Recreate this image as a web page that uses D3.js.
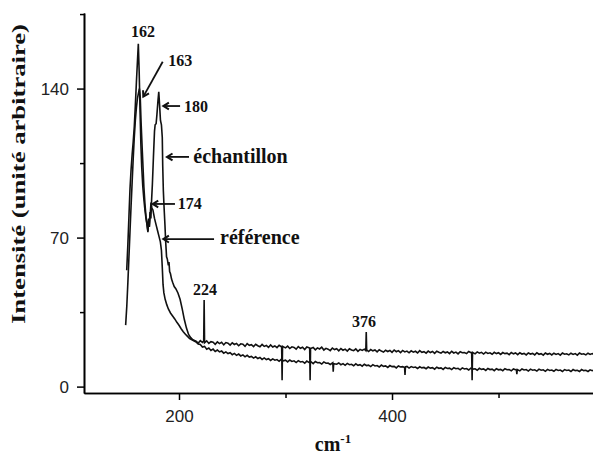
<!DOCTYPE html>
<html><head><meta charset="utf-8">
<script src="https://cdn.jsdelivr.net/npm/d3@7"></script>
<style>
html,body{margin:0;padding:0;background:#fff;}
svg{display:block;}
</style></head><body>
<svg id="chart" width="593" height="454"></svg>
<script>
// ---------- data : [wavenumber cm-1, intensity] ----------
const sampleSpectrum = [
[149.9,28.9],[151,38],[152,49],[153,61],[154,73],[155,85],[156,96],[157,107],[158,117],[159,125],[160,131],[161,135.5],[162,138],[162.8,140],[163.6,136],[164.4,124],[165.6,110],[166.4,101],[167,94],[168,86],[169,80],[170,76],[170.8,72.5],[171.4,79],[172,75],[172.8,82],[173.6,79],[174.3,88],[175,95],[176,108],[177,120],[177.6,123],[178.5,123.5],[179.3,128],[180.2,134],[181,138.5],[181.8,132],[182.6,125],[183.5,123],[184.3,117],[184.7,104],[185.3,92],[186,84],[186.8,76],[187.5,68],[188.3,61],[189,60],[190,57],[190.6,58.5],[191.2,54],[192,53],[193,50.5],[194,49],[195.5,47],[197,46],[199,44],[201,41],[203,36.5],[205,31.5],[207,27.5],[209,24.5],[211,23],[213,22],
[216,21.3],[218,20.4],[220,21.6],[222,20.8],[223.2,21.4],[223.6,40.7],[224.0,20.6],[226,21.5],[228,20.3],[230,21.1],[232,20.9],[234,19.9],[236,21.0],[238,20.2],[240,20.8],[242,19.6],[244,20.7],[246,20.4],[248,19.5],[250,20.6],[252,19.8],[254,20.3],[256,19.2],[258,20.1],[260,19.9],[262,18.9],[264,20.2],[266,19.4],[268,19.7],[270,18.8],[272,19.9],[274,19.2],[276,18.7],[278,19.8],[280,18.9],[282,19.3],[284,18.4],[286,19.6],[288,18.6],[290,19.1],[292,18.3],[294,19.4],[296.4,18.6],[296.8,3.0],[297.2,18.9],[300,18.2],[302,19.0],[304,17.9],[306,18.7],[308,18.4],[310,17.6],[312,18.8],[314,18.0],[316,18.5],[318,17.4],[320,18.6],[322.7,18.1],[323.1,3.0],[323.5,17.9],[326,18.4],[328,17.3],[330,18.2],[332,17.7],[334,18.5],[336,17.2],[338,18.0],[340,17.6],[342,16.9],[344,18.1],[346,17.4],[348,17.8],[350,16.8],[352,17.9],[354,17.1],[356,17.6],[358,16.7],[360,17.8],[362,17.2],[364,16.9],[366,17.7],[368,16.6],[370,17.5],[372,17.0],[374,17.6],[375.4,16.9],[375.8,25.6],[376.2,17.3],[378,16.5],[380,17.4],[382,16.8],[384,17.2],[386,16.3],[388,17.3],[390,16.7],[392,16.2],[394,17.1],[396,16.5],[398,17.0],[400,16.1],[402,17.2],[404,16.4],[406,16.9],[408,16.0],[410,17.0],[412,16.3],[414,16.7],[416,15.9],[418,16.8],[420,16.2],[422,16.6],[424,15.8],[426,16.9],[428,16.1],[430,16.4],[432,15.7],[434,16.7],[436,16.0],[438,16.5],[440,15.6],[442,16.6],[444,16.1],[446,15.7],[448,16.5],[450,15.9],[452,16.3],[454,15.5],[456,16.6],[458,15.8],[460,16.2],[462,15.4],[464,16.4],[466,15.9],[468,16.0],[470,15.5],[472,16.5],[474.8,15.8],[475.2,3.0],[475.6,16.1],[478,15.4],[480,16.3],[482,15.7],[484,16.1],[486,15.3],[488,16.2],[490,15.6],[492,15.9],[494,15.2],[496,16.1],[498,15.5],[500,15.9],[502,15.1],[504,16.0],[506,15.5],[508,15.7],[510,15.0],[512,16.0],[514,15.4],[516,15.8],[518,15.0],[520,15.9],[522,15.3],[524,15.6],[526,14.9],[528,15.8],[530,15.3],[532,15.6],[534,14.9],[536,15.9],[538,15.2],[540,15.5],[542,14.8],[544,15.8],[546,15.2],[548,15.6],[550,14.9],[552,15.7],[554,15.1],[556,15.5],[558,14.8],[560,15.8],[562,15.2],[564,15.4],[566,14.9],[568,15.7],[570,15.1],[572,15.5],[574,14.8],[576,15.8],[578,15.2],[580,15.4],[582,14.9],[584,15.7],[586,15.1],[588,15.5],[590,15.0]
];
const referenceSpectrum = [
[150.9,54.7],[152,67],[153,80],[154,93],[155,102],[156,109],[157,115],[158,122],[159,132],[160,143],[161,153],[161.8,161],[162.6,148],[163.4,130],[164.2,114],[165,103],[166,94],[167,88],[168,83],[169,79],[170,76],[170.8,73],[171.5,78],[172.2,75],[173,81],[173.7,86.5],[174.4,84],[175.5,83],[177,79],[178.5,76],[180,73],[181.5,70],[182.5,68],[183.5,64],[184.3,56],[185,48],[185.8,44],[187,41],[188.5,38.5],[190,36.5],[192,34.6],[194,33.2],[196,31.8],[198,30.2],[200,28.8],[202,27.2],[204,25.8],[206,24.6],[208,23.6],[210,22.6],[213,21.7],
[216,21.0],[218,20.0],[220,19.8],[222,18.6],[224,18.9],[226,17.6],[228,18.1],[230,17.0],[232,17.6],[234,16.5],[236,17.2],[238,16.3],[240,16.7],[242,15.7],[244,16.3],[246,15.5],[248,15.9],[250,15.0],[252,15.6],[254,14.7],[256,15.3],[258,14.4],[260,14.9],[262,14.0],[264,14.7],[266,13.9],[268,14.2],[270,13.4],[272,14.0],[274,13.2],[276,13.7],[278,12.8],[280,13.5],[282,12.7],[284,13.1],[286,12.3],[288,13.0],[290,12.4],[292,12.7],[294,11.9],[296,12.8],[298,12.1],[300,12.4],[302,11.6],[304,12.5],[306,11.8],[308,12.1],[310,11.3],[312,12.2],[314,11.6],[316,11.8],[318,11.0],[320,12.0],[322,11.4],[324,11.6],[326,10.8],[328,11.8],[330,11.2],[332,11.3],[334,10.6],[336,11.6],[338,11.0],[340,11.1],[342,10.4],[344.4,11.2],[344.8,7.0],[345.2,10.8],[348,10.5],[350,11.1],[352,10.3],[354,10.8],[356,10.0],[358,10.9],[360,10.3],[362,10.5],[364,9.8],[366,10.7],[368,10.0],[370,10.3],[372,9.6],[374,10.5],[376,9.9],[378,10.1],[380,9.4],[382,10.3],[384,9.7],[386,9.9],[388,9.2],[390,10.1],[392,9.5],[394,9.7],[396,9.0],[398,9.9],[400,9.4],[402,9.5],[404,8.8],[406,9.7],[408,9.2],[410,9.4],[411.8,9.0],[412.2,5.5],[412.6,9.3],[414,9.5],[416,8.7],[418,9.4],[420,9.0],[422,9.2],[424,8.5],[426,9.3],[428,8.8],[430,9.0],[432,8.4],[434,9.2],[436,8.7],[438,8.9],[440,8.2],[442,9.1],[444,8.6],[446,8.8],[448,8.1],[450,9.0],[452,8.5],[454,8.7],[456,8.0],[458,8.9],[460,8.4],[462,8.6],[464,7.9],[466,8.8],[468,8.3],[470,8.5],[472,7.8],[474,8.7],[476,8.2],[478,8.4],[480,7.7],[482,8.6],[484,8.1],[486,8.3],[488,7.6],[490,8.5],[492,8.0],[494,8.2],[496,7.5],[498,8.4],[500,7.9],[502,8.1],[504,7.5],[506,8.4],[508,7.9],[510,8.0],[512,7.4],[514,8.3],[516.8,7.8],[517.2,5.8],[517.6,8.0],[520,7.4],[522,8.3],[524,7.8],[526,8.0],[528,7.3],[530,8.2],[532,7.7],[534,7.9],[536,7.3],[538,8.2],[540,7.7],[542,7.9],[544,7.2],[546,8.1],[548,7.6],[550,7.8],[552,7.2],[554,8.1],[556,7.6],[558,7.8],[560,7.1],[562,8.0],[564,7.6],[566,7.8],[568,7.1],[570,8.0],[572,7.5],[574,7.7],[576,7.1],[578,8.0],[580,7.5],[582,7.7],[584,7.1],[586,7.9],[588,7.5],[590,7.7]
];

const xTickValues = [200, 400];
const xMinorTickValues = [300, 500];
const yTickValues = [0, 70, 140];
const yMinorTickValues = [35, 105, 175];
const peakLabels = ["162", "163", "180", "174", "224", "376"];
const seriesLabels = ["échantillon", "référence"];
const xAxisTitle = "cm";
const xAxisTitleSup = "-1";
const yAxisTitle = "Intensité (unité arbitraire)";

// ---------- drawing ----------
const svg = d3.select("#chart");
const x = d3.scaleLinear().domain([110.8, 588.7]).range([84, 593]);
const y = d3.scaleLinear().domain([-3, 175.5]).range([393, 13]);

const serif = "'Liberation Serif','Times New Roman',serif";
const sans = "'Liberation Sans',Arial,sans-serif";

// axes
const yAxis = svg.append("g").attr("transform", "translate(84,0)")
  .call(d3.axisLeft(y).tickValues(yTickValues).tickSize(7).tickSizeOuter(0).tickPadding(8).tickFormat(d3.format("d")));
const yMinor = svg.append("g").attr("transform", "translate(84,0)")
  .call(d3.axisLeft(y).tickValues(yMinorTickValues).tickSize(4).tickSizeOuter(0).tickFormat(""));
const xAxis = svg.append("g").attr("transform", "translate(0,393)")
  .call(d3.axisBottom(x).tickValues(xTickValues).tickSize(7).tickSizeOuter(0).tickPadding(10).tickFormat(d3.format("d")));
const xMinor = svg.append("g").attr("transform", "translate(0,393)")
  .call(d3.axisBottom(x).tickValues(xMinorTickValues).tickSize(5).tickSizeOuter(0).tickFormat(""));
[yAxis, yMinor, xAxis, xMinor].forEach(g => {
  g.selectAll("path.domain").attr("stroke", "#000").attr("stroke-width", 1.6);
  g.selectAll(".tick line").attr("stroke", "#000").attr("stroke-width", 1.5);
  g.selectAll(".tick text").attr("font-family", sans).attr("font-size", 17).attr("fill", "#222");
});

// spectra
const line = d3.line().x(d => x(d[0])).y(d => y(d[1]));
svg.append("g").selectAll("path.spec")
  .data([referenceSpectrum, sampleSpectrum]).join("path")
  .attr("class", "spec")
  .attr("d", line)
  .attr("fill", "none").attr("stroke", "#111").attr("stroke-width", 1.6)
  .attr("stroke-linejoin", "miter");

// annotations
const ann = svg.append("g").attr("font-family", serif).attr("font-weight", "bold").attr("fill", "#111");
function arrow(c1, v1, c2, v2) {
  const x1 = x(c1), y1 = y(v1), x2 = x(c2), y2 = y(v2);
  const a = Math.atan2(y1 - y2, x1 - x2), h = 6.5, s = 0.55;
  ann.append("line").attr("x1", x1).attr("y1", y1).attr("x2", x2).attr("y2", y2)
    .attr("stroke", "#111").attr("stroke-width", 1.8);
  ann.append("path")
    .attr("d", `M${x2 + h * Math.cos(a + s)},${y2 + h * Math.sin(a + s)}L${x2},${y2}L${x2 + h * Math.cos(a - s)},${y2 + h * Math.sin(a - s)}`)
    .attr("fill", "none").attr("stroke", "#111").attr("stroke-width", 2);
}
function label(txt, c, v, anchor, size) {
  ann.append("text").attr("x", x(c)).attr("y", y(v)).attr("text-anchor", anchor)
    .attr("font-size", size).text(txt);
}
label(peakLabels[0], 166.2, 164.2, "middle", 16);
label(peakLabels[1], 189.9, 150.4, "start", 16);
arrow(184.7, 152.6, 166.5, 136.2);
label(peakLabels[2], 204.7, 129.2, "start", 16);
arrow(201, 131.8, 185.3, 131.8);
label(seriesLabels[0], 213.4, 105.0, "start", 20);
arrow(209.4, 107.9, 188.7, 107.9);
label(peakLabels[3], 198.8, 83.2, "start", 16);
arrow(196.2, 85.8, 175.3, 85.8);
label(seriesLabels[1], 238.5, 67.0, "start", 20);
arrow(232.9, 69.3, 185.3, 69.3);
label(peakLabels[4], 224.4, 43.0, "middle", 16);
label(peakLabels[5], 373.7, 28.0, "middle", 16);

// axis titles
const xt = svg.append("text").attr("x", 333).attr("y", 451).attr("text-anchor", "middle")
  .attr("font-family", serif).attr("font-weight", "bold").attr("font-size", 20).attr("fill", "#111");
xt.append("tspan").text(xAxisTitle);
xt.append("tspan").attr("dy", -8).attr("font-size", 13).text(xAxisTitleSup);

svg.append("text").attr("transform", "translate(25,174) rotate(-90)")
  .attr("text-anchor", "middle").attr("font-family", serif).attr("font-weight", "bold")
  .attr("font-size", 18).attr("fill", "#111")
  .attr("textLength", 300).attr("lengthAdjust", "spacingAndGlyphs")
  .text(yAxisTitle);
</script>
</body></html>
